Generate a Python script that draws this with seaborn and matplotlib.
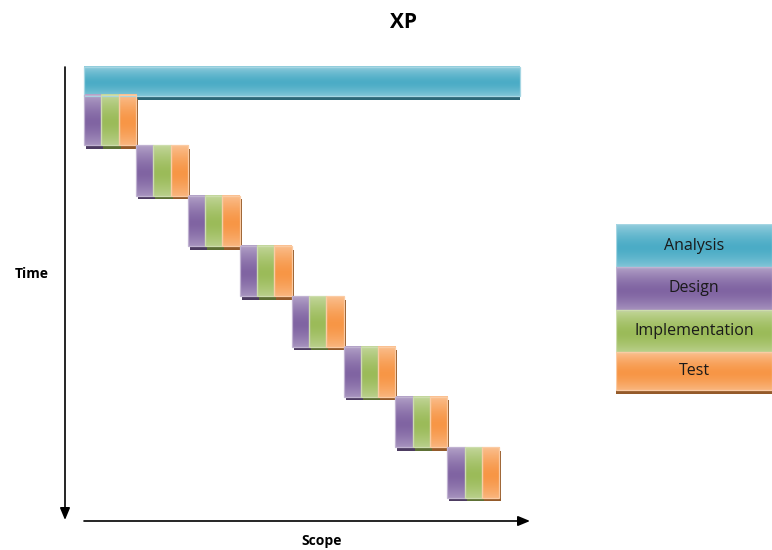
import numpy as np
import pandas as pd
import matplotlib
matplotlib.use("Agg")
import matplotlib.pyplot as plt
from matplotlib.patches import Rectangle
from matplotlib.colors import to_rgb
import seaborn as sns

sns.set_theme(style="white")
plt.rcParams["font.family"] = ["Open Sans", "DejaVu Sans"]

# ---- data -------------------------------------------------------------
phases = ["Analysis", "Design", "Implementation", "Test"]
phase_colors = ["#4BACC6", "#8064A2", "#9BBB59", "#F79646"]
iteration_phases = ["Design", "Implementation", "Test"]
phase_scope = [1.0, 1.0, 1.0]          # scope covered by each phase of an iteration
n_iterations = 8
iteration_duration = 1.0
analysis_scope = 25.2
analysis_duration = 0.58
first_iteration_start = 0.56

# task table: one row per drawn block
rows = [dict(phase="Analysis", scope0=0.0, scope=analysis_scope,
             t0=0.0, dur=analysis_duration)]
for i in range(n_iterations):
    s0 = i * sum(phase_scope)
    t0 = first_iteration_start + i * iteration_duration
    for ph, w in zip(iteration_phases, phase_scope):
        rows.append(dict(phase=ph, scope0=s0, scope=w, t0=t0, dur=iteration_duration))
        s0 += w
tasks = pd.DataFrame(rows)
palette = dict(zip(phases, phase_colors))

# ---- layout -----------------------------------------------------------
W, H = 772, 550
px_scope, px_time = 17.3, 50.3        # pixels per unit
ox, oy = 84, 67                        # pixel position of the origin

fig = plt.figure(figsize=(W / 100, H / 100), dpi=100)
ax = fig.add_axes([0, 0, 1, 1])
ax.set_axis_off()


def lighten(c, f):
    c = np.array(to_rgb(c))
    return c + (1 - c) * f


def darken(c, f):
    return np.array(to_rgb(c)) * f


def glossy(ax, x, y, w, h, color, z=2):
    """Rectangle with a light-dark-light vertical gradient and a light rim."""
    base = np.array(to_rgb(color))
    light = lighten(color, 0.4)
    t = np.linspace(0, 1, 80)
    p = (np.abs(t - 0.55) / 0.55).clip(0, 1) ** 1.5
    img = base[None, :] * (1 - p[:, None]) + light[None, :] * p[:, None]
    ax.imshow(img[:, None, :], extent=(x, x + w, y + h, y), aspect="auto",
              interpolation="bilinear", zorder=z)
    ax.add_patch(Rectangle((x, y), w, h, fill=False, edgecolor=lighten(color, 0.5),
                           lw=0.9, zorder=z + 0.1))


def shadow(ax, x, y, w, h, color, dx, dy, z=1):
    ax.add_patch(Rectangle((x + dx, y + dy), w, h, color=darken(color, 0.6),
                           lw=0, zorder=z))


sdx, sdy = 2 / px_scope, 3.5 / px_time
for _, r in tasks.iterrows():
    dx = 0 if r.phase == "Analysis" else sdx
    shadow(ax, r.scope0, r.t0, r.scope, r.dur, palette[r.phase], dx, sdy)
for _, r in tasks.iterrows():
    glossy(ax, r.scope0, r.t0, r.scope, r.dur, palette[r.phase])

ax.set_xlim(-ox / px_scope, (W - ox) / px_scope)
ax.set_ylim((H - oy) / px_time, -oy / px_time)

# axes arrows
x_axis_t = (521 - oy) / px_time
arrow = dict(arrowstyle="-|>,head_length=0.6,head_width=0.25",
             color="black", lw=1.2, shrinkA=0, shrinkB=0)
ax.annotate("", xy=((65 - ox) / px_scope, (520 - oy) / px_time),
            xytext=((65 - ox) / px_scope, 0), arrowprops=arrow)
ax.annotate("", xy=((530 - ox) / px_scope, x_axis_t),
            xytext=(0, x_axis_t), arrowprops=arrow)

ax.text((32 - ox) / px_scope, (274 - oy) / px_time, "Time", ha="center", va="center",
        fontsize=10, fontweight="bold", color="black")
ax.text((322 - ox) / px_scope, (541 - oy) / px_time, "Scope", ha="center", va="center",
        fontsize=10, fontweight="bold", color="black")
fig.text(404 / W, 1 - 22 / H, "XP", ha="center", va="center",
         fontsize=15, fontweight="bold", color="black")

# ---- legend -----------------------------------------------------------
lg_top, lg_bot, lg_left = 224, 394, 616
box_h = [43, 43, 42, 38]               # pixel heights of the legend boxes
lg_shadow = 4
lax = fig.add_axes([lg_left / W, 1 - lg_bot / H, (W - lg_left) / W, (lg_bot - lg_top) / H])
lax.set_axis_off()
tops = np.concatenate([[0], np.cumsum(box_h)[:-1]])
shadow(lax, 0, tops[-1], 1, box_h[-1], phase_colors[-1], 0, lg_shadow)
for ph, c, y0, h in zip(phases, phase_colors, tops, box_h):
    glossy(lax, 0, y0, 1, h, c)
    lax.text(0.5, y0 + h / 2, ph, ha="center", va="center",
             fontsize=11.5, color="#1a1a1a", zorder=5)
lax.set_xlim(0, 1)
lax.set_ylim(sum(box_h) + lg_shadow, 0)

fig.savefig("out.png", dpi=100)
